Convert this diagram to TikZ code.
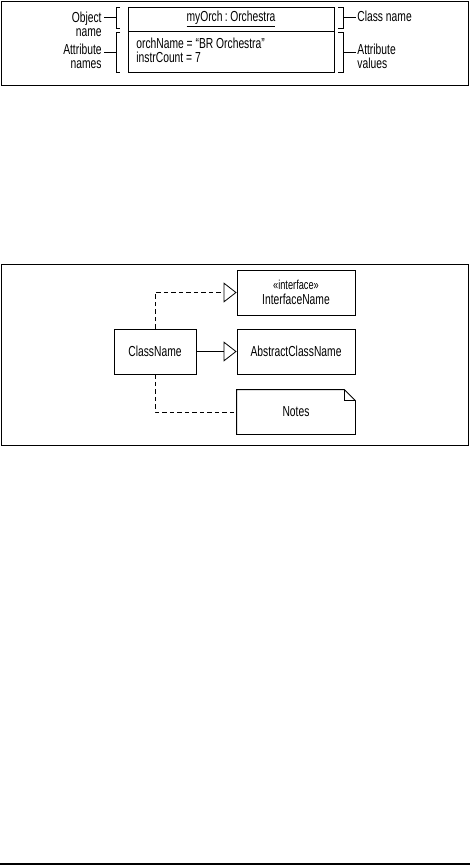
\documentclass[tikz,border=0pt]{standalone}
\usepackage{fontspec}
\setmainfont{Liberation Sans}[FakeStretch=0.71]
\usetikzlibrary{positioning,arrows.meta}

\begin{document}
\begin{tikzpicture}[x=1pt,y=-1pt,line width=0.8pt,
  every node/.style={font=\fontsize{14.5}{14.8}\selectfont},
  umlbox/.style={draw,rectangle,inner sep=0pt,minimum width=118,minimum height=45},
  lbl/.style={inner sep=0pt,align=right},
  rlbl/.style={inner sep=0pt,align=left},
  realize/.style={dash pattern=on 4.5pt off 3pt,-{Triangle[open,length=13pt,width=20pt,fill=white]}},
  extend/.style={-{Triangle[open,length=13pt,width=20pt,fill=white]}}]
\useasboundingbox (0,0) rectangle (470,866);
% object notation
\draw (1.5,1.5) rectangle (468.5,85);
\node[umlbox,minimum width=206,minimum height=24] (objname) at (231,19) {\underline{myOrch\,:\,Orchestra}};
\node[umlbox,minimum width=206,minimum height=41,anchor=north] (objattrs) at (objname.south) {};
\node[rlbl,anchor=base west] (attrtext) at (136,63) {orchName = “BR Orchestra”\\instrCount = 7};
% brackets
\draw (120,7.5) -- (116,7.5) -- (116,28) -- (120,28);
\draw (120,32) -- (116,32) -- (116,72) -- (120,72);
\draw (338,7.5) -- (343,7.5) -- (343,28) -- (338,28);
\draw (338,32) -- (343,32) -- (343,72) -- (338,72);
\coordinate (objbr) at (116,17.5);
\coordinate (attrbr) at (116,52);
\coordinate (clsbr) at (343,17.5);
\coordinate (valbr) at (343,52);
\node[lbl,anchor=base east] (objlbl) at (102,37) {Object\\name};
\node[lbl,anchor=base east] (attrlbl) at (102,69) {Attribute\\names};
\node[rlbl,anchor=base west] (clslbl) at (357,22) {Class name};
\node[rlbl,anchor=base west] (vallbl) at (357,69) {Attribute\\values};
\draw (objbr) -- ([xshift=2pt]objlbl.east |- objbr);
\draw (attrbr) -- ([xshift=2pt]attrlbl.east |- attrbr);
\draw (clsbr) -- ([xshift=-1pt]clslbl.west |- clsbr);
\draw (valbr) -- ([xshift=-1pt]vallbl.west |- valbr);

% class relations
\draw (1.5,264) rectangle (468.5,445.5);
\node[umlbox,minimum width=82] (cls) at (155,351.5) {ClassName};
\node[umlbox,align=center] (iface) at (296,292.5) {{\fontsize{13}{13}\selectfont «interface»}\\InterfaceName};
\node[umlbox] (abs) at (296,351.5) {AbstractClassName};
\node[inner sep=0pt,minimum width=118,minimum height=44] (notes) at (296,412) {Notes};
\draw (notes.north west) -- ([xshift=-11pt]notes.north east) -- ([yshift=-11pt]notes.north east) -- (notes.south east) -- (notes.south west) -- cycle;
\draw ([xshift=-11pt]notes.north east) |- ([yshift=-11pt]notes.north east);
\draw[realize] (cls.north) |- (iface.west);
\draw[extend] (cls.east) -- (abs.west);
\draw[dash pattern=on 4.5pt off 3pt] (cls.south) |- (notes.west);

\draw[line width=1.5pt] (0,864) -- (470,864);
\end{tikzpicture}
\end{document}
